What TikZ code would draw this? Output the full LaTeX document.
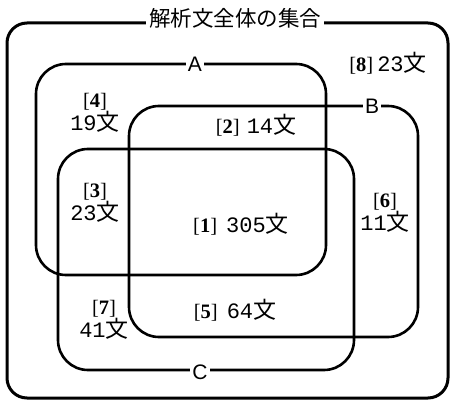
\documentclass[tikz,border=0pt]{standalone}
\usepackage{fontspec}
\setmainfont{Liberation Serif}
\newfontfamily\cjkfont{Noto Sans CJK JP}
\newfontfamily\monofont{Liberation Mono}
\newfontfamily\lsansfont{Liberation Sans}
\newcommand\regcount[1]{{\monofont\fontsize{22}{23}\selectfont #1}{\cjkfont\fontsize{23}{23}\selectfont 文}}
\newcommand\regnum[1]{[\textbf{#1}]}
\begin{document}
\begin{tikzpicture}[x=1pt,y=-1pt,
  outerbox/.style={draw, line width=3pt, rounded corners=20pt, inner sep=0pt, outer sep=0pt},
  setbox/.style={draw, line width=2.6pt, rounded corners=30pt, inner sep=0pt, outer sep=0pt},
  setlabel/.style={fill=white, inner sep=2pt, font=\lsansfont\fontsize{21}{21}\selectfont},
  titlelabel/.style={fill=white, inner sep=3pt, font=\cjkfont\fontsize{21.5}{22}\selectfont},
  region/.style={align=center, inner sep=0pt, font=\fontsize{20.5}{23}\selectfont}
]
\useasboundingbox (0,0) rectangle (452,401);
\fill[white] (0,0) rectangle (452,401);
\node[outerbox, minimum width=441pt, minimum height=375pt] (U) at (227.5,210.5) {};
\node[setbox, minimum width=290pt, minimum height=211pt] (A) at (181,169.5) {};
\node[setbox, minimum width=289pt, minimum height=231pt] (B) at (273.5,221.5) {};
\node[setbox, minimum width=296pt, minimum height=221pt] (C) at (206,259.5) {};
\node[titlelabel] (title) at (235,18) {解析文全体の集合};
\node[setlabel] (la) at (195,64) {A};
\node[setlabel] (lb) at (372,106) {B};
\node[setlabel] (lc) at (200,372) {C};
\node[region] (r8) at (388,63) {\regnum{8}\hspace{4pt}\regcount{23}};
\node[region] (r4) at (95,113) {\regnum{4}\\\regcount{19}};
\node[region] (r2) at (256,125) {\regnum{2}\hspace{7pt}\regcount{14}};
\node[region] (r3) at (95,203) {\regnum{3}\\\regcount{23}};
\node[region] (r1) at (241,224) {\regnum{1}\hspace{9pt}\regcount{305}};
\node[region] (r6) at (385,213) {\regnum{6}\\\regcount{11}};
\node[region] (r7) at (104,320) {\regnum{7}\\\regcount{41}};
\node[region] (r5) at (235,310) {\regnum{5}\hspace{9pt}\regcount{64}};
\end{tikzpicture}
\end{document}
